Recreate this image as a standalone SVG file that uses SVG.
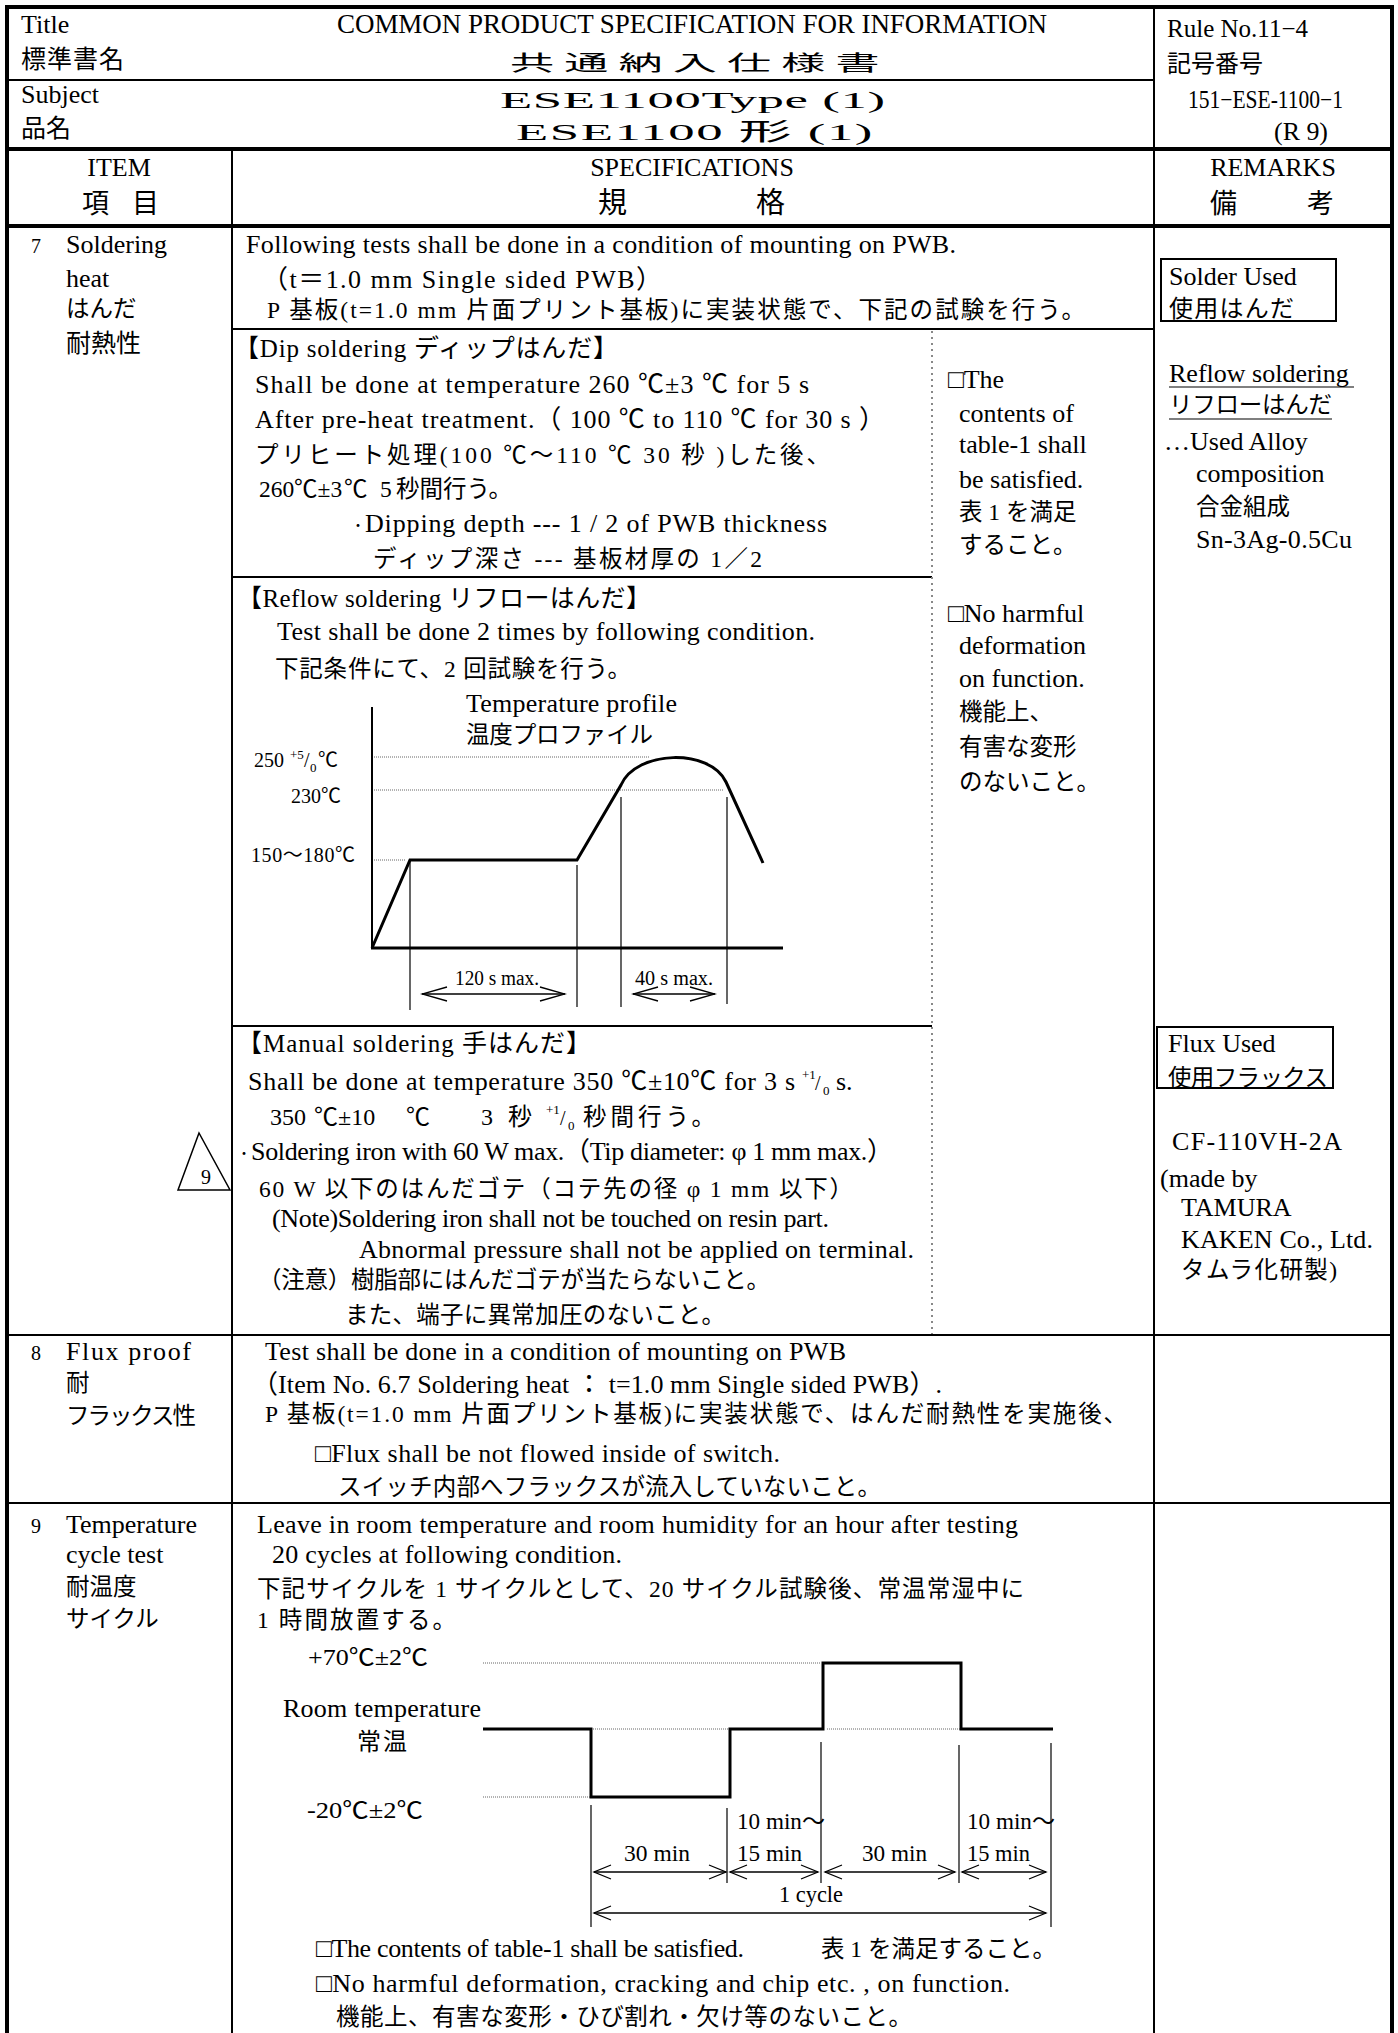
<svg xmlns="http://www.w3.org/2000/svg" width="1398" height="2033" viewBox="0 0 1398 2033">
<style>
text{font-family:"Liberation Serif","Noto Sans CJK JP",serif;font-size:26px;fill:#000}
.J{font-size:23.5px}
.m23{font-size:23px}
.m24{font-size:24px}
.m25{font-size:25px}
.m27{font-size:27px}
.m29{font-size:29px}
.n21{font-size:21px}
.sm{font-size:20px}
.dt{font-size:14px}
.sup{font-size:13px}
.b4{stroke:#000;stroke-width:4;fill:none}
.b2{stroke:#000;stroke-width:2;fill:none}
.b1{stroke:#000;stroke-width:1.2;fill:none}
.dot{stroke:#666;stroke-width:1;stroke-dasharray:1 1;fill:none}
.vdot{stroke:#888;stroke-width:2;stroke-dasharray:2 4;fill:none}
.curve{stroke:#000;stroke-width:3;fill:none;stroke-linejoin:miter}
.ar{stroke:#000;stroke-width:1.3;fill:none}
</style>
<defs>
<marker id="ah" viewBox="-26 -8 28 16" refX="0" refY="0" markerWidth="28" markerHeight="16" markerUnits="userSpaceOnUse" orient="auto-start-reverse"><path d="M-25,-7 L0,0 L-25,7" fill="none" stroke="#000" stroke-width="1.3"/></marker>
<marker id="as" viewBox="-18 -8 20 16" refX="0" refY="0" markerWidth="20" markerHeight="16" markerUnits="userSpaceOnUse" orient="auto-start-reverse"><path d="M-17,-7 L0,0 L-17,7" fill="none" stroke="#000" stroke-width="1.3"/></marker>
</defs>
<rect width="1398" height="2033" fill="#fff"/>

<g id="frame">
<line class="b4" x1="5" y1="7" x2="1394" y2="7"/>
<line class="b4" x1="7" y1="5" x2="7" y2="2033"/>
<line class="b4" x1="1392" y1="5" x2="1392" y2="2033"/>
<line class="b2" x1="7" y1="80" x2="1154" y2="80"/>
<line class="b4" x1="7" y1="149" x2="1392" y2="149"/>
<line class="b4" x1="7" y1="226" x2="1392" y2="226"/>
<line class="b2" x1="1154" y1="7" x2="1154" y2="2033"/>
<line class="b2" x1="232" y1="149" x2="232" y2="2033"/>
<line class="b2" x1="7" y1="1335" x2="1392" y2="1335"/>
<line class="b2" x1="7" y1="1503" x2="1392" y2="1503"/>
<line class="b2" x1="232" y1="329" x2="1154" y2="329"/>
<line class="b2" x1="232" y1="577" x2="932" y2="577"/>
<line class="b2" x1="232" y1="1026" x2="932" y2="1026"/>
<line class="vdot" x1="932" y1="331" x2="932" y2="1334"/>
</g>

<g id="header">
<text x="21" y="33">Title</text>
<text x="21" y="68" class="m25" textLength="103">標準書名</text>
<text x="21" y="103">Subject</text>
<text x="21" y="137" class="m25" textLength="50">品名</text>
<text x="337" y="33" class="m27" textLength="710">COMMON PRODUCT SPECIFICATION FOR INFORMATION</text>
<text transform="translate(510,70) scale(2.1,1)" x="0" y="0" class="n21" textLength="176">共通納入仕様書</text>
<text transform="translate(500,108) scale(2.2,1)" x="0" y="0" class="m24" textLength="175">ESE1100Type (1)</text>
<text transform="translate(516,140) scale(2.2,1)" x="0" y="0" class="m24" textLength="162">ESE1100 形 (1)</text>
<text x="1167" y="37" class="m25" textLength="141" lengthAdjust="spacingAndGlyphs">Rule  No.11−4</text>
<text x="1167" y="72" class="m24" textLength="96">記号番号</text>
<text x="1188" y="108" class="m25" textLength="155" lengthAdjust="spacingAndGlyphs">151−ESE-1100−1</text>
<text x="1274" y="140" class="m25" textLength="54" lengthAdjust="spacingAndGlyphs">(R 9)</text>
</g>

<g id="column-heads">
<text x="119" y="176" text-anchor="middle">ITEM</text>
<text x="82" y="213" class="m27">項</text>
<text x="132" y="213" class="m27">目</text>
<text x="692" y="176" text-anchor="middle">SPECIFICATIONS</text>
<text x="598" y="213" class="m29">規</text>
<text x="756" y="213" class="m29">格</text>
<text x="1273" y="176" text-anchor="middle">REMARKS</text>
<text x="1210" y="213" class="m27">備</text>
<text x="1307" y="213" class="m27">考</text>
</g>

<g id="item7-label">
<text x="31" y="253" class="sm">7</text>
<text x="66" y="253">Soldering</text>
<text x="66" y="287">heat</text>
<text x="66" y="317" class="J">はんだ</text>
<text x="66" y="352" class="m25">耐熱性</text>
</g>

<g id="item7-spec">
<text x="246" y="253" textLength="710">Following tests shall be done in a condition of mounting on PWB.</text>
<text x="262" y="288" textLength="400">（t＝1.0 mm Single  sided  PWB）</text>
<text x="267" y="318" class="J" textLength="818">P 基板(t=1.0 mm  片面プリント基板)に実装状態で、下記の試験を行う。</text>
</g>

<g id="dip">
<text x="234" y="357" class="m25" textLength="384">【Dip soldering  ディップはんだ】</text>
<text x="255" y="393" textLength="554">Shall be done at temperature 260 ℃±3 ℃  for 5 s</text>
<text x="255" y="428" textLength="630">After pre-heat treatment.（ 100 ℃ to 110 ℃ for 30 s ）</text>
<text x="255" y="463" class="J" textLength="575">プリヒート処理(100 ℃〜110 ℃ 30 秒 )した後、</text>
<text y="497" class="J"><tspan x="259">260</tspan><tspan x="294">℃±3</tspan><tspan x="344">℃</tspan><tspan x="380">5</tspan><tspan x="396">秒間行う。</tspan></text>
<text x="351" y="530" class="dt">・</text>
<text x="365" y="532" textLength="462">Dipping depth  ---  1 / 2 of PWB thickness</text>
<text x="373" y="567" class="J" textLength="389">ディップ深さ  ---  基板材厚の 1／2</text>
</g>

<g id="criteria7">
<text x="948" y="388">□The</text>
<text x="959" y="422">contents of</text>
<text x="959" y="453">table-1 shall</text>
<text x="959" y="488">be satisfied.</text>
<text x="959" y="520" class="J">表 1 を満足</text>
<text x="959" y="553" class="J">すること。</text>
<text x="948" y="622">□No harmful</text>
<text x="959" y="654">deformation</text>
<text x="959" y="687">on function.</text>
<text x="959" y="720" class="J">機能上、</text>
<text x="959" y="755" class="J">有害な変形</text>
<text x="959" y="790" class="J">のないこと。</text>
</g>

<g id="remarks7">
<rect x="1161" y="259" width="175" height="62" class="b2"/>
<text x="1169" y="285">Solder Used</text>
<text x="1169" y="317" class="m24" textLength="125">使用はんだ</text>
<text x="1169" y="382">Reflow soldering</text>
<line class="b1" x1="1169" y1="387" x2="1354" y2="387"/>
<text x="1169" y="413" class="J" textLength="163">リフローはんだ</text>
<line class="b1" x1="1169" y1="419" x2="1332" y2="419"/>
<text x="1164" y="450">…Used Alloy</text>
<text x="1196" y="482">composition</text>
<text x="1196" y="515" class="J">合金組成</text>
<text x="1196" y="548" textLength="156">Sn-3Ag-0.5Cu</text>
</g>

<g id="reflow">
<text x="237" y="607" class="m25" textLength="414">【Reflow soldering  リフローはんだ】</text>
<text x="277" y="640" textLength="538">Test shall be done 2 times by following condition.</text>
<text x="275" y="677" class="J" textLength="356">下記条件にて、2 回試験を行う。</text>
<text x="466" y="712" textLength="211">Temperature profile</text>
<text x="466" y="743" class="J" textLength="187">温度プロファイル</text>
<text x="254" y="767" class="sm">250</text>
<text x="290" y="759" class="sup">+5</text>
<text x="304" y="767" class="sm">/</text>
<text x="310" y="772" class="sup">0</text>
<text x="318" y="767" class="sm">℃</text>
<text x="291" y="803" class="sm">230℃</text>
<text x="251" y="862" class="sm" textLength="104">150〜180℃</text>
<line class="dot" x1="374" y1="757" x2="650" y2="757"/>
<line class="dot" x1="374" y1="790" x2="723" y2="790"/>
<line class="dot" x1="374" y1="860" x2="405" y2="860"/>
<line class="b2" x1="372" y1="707" x2="372" y2="949"/>
<line class="curve" x1="371" y1="948" x2="783" y2="948"/>
<path class="curve" d="M372,948 L410,860 L577,860 L621,785 C636,750 710,748 726,782 L763,863"/>
<line class="b1" x1="410" y1="860" x2="410" y2="1010"/>
<line class="b1" x1="577" y1="865" x2="577" y2="1007"/>
<line class="b1" x1="621" y1="797" x2="621" y2="1007"/>
<line class="b1" x1="727" y1="797" x2="727" y2="1004"/>
<line class="ar" x1="422" y1="994" x2="565" y2="994" marker-start="url(#ah)" marker-end="url(#ah)"/>
<line class="ar" x1="633" y1="994" x2="715" y2="994" marker-start="url(#ah)" marker-end="url(#ah)"/>
<text x="455" y="985" class="sm" textLength="84" lengthAdjust="spacingAndGlyphs">120 s max.</text>
<text x="635" y="985" class="sm" textLength="78" lengthAdjust="spacingAndGlyphs">40 s max.</text>
</g>

<g id="manual">
<text x="237" y="1052" class="m25" textLength="354">【Manual soldering  手はんだ】</text>
<text x="248" y="1090" textLength="547">Shall be done at temperature 350 ℃±10℃  for 3 s</text>
<text x="802" y="1079" class="sup">+1</text>
<text x="815" y="1090" class="sm">/</text>
<text x="823" y="1095" class="sup">0</text>
<text x="836" y="1090">s.</text>
<text y="1125" class="m24"><tspan x="270">350</tspan><tspan x="314">℃±10</tspan><tspan x="406">℃</tspan><tspan x="481">3</tspan><tspan x="508">秒</tspan></text>
<text x="546" y="1114" class="sup">+1</text>
<text x="560" y="1125" class="sm">/</text>
<text x="568" y="1130" class="sup">0</text>
<text x="583" y="1125" class="J" textLength="132">秒間行う。</text>
<text x="237" y="1158" class="dt">・</text>
<text x="251" y="1160" textLength="642">Soldering iron with 60 W max.（Tip diameter: φ  1 mm max.）</text>
<text x="259" y="1197" class="J" textLength="594">60 W 以下のはんだゴテ（コテ先の径 φ  1 mm 以下）</text>
<text x="272" y="1227" textLength="557">(Note)Soldering iron shall not be touched on resin part.</text>
<text x="359" y="1258" textLength="555">Abnormal pressure shall not be applied on terminal.</text>
<text x="258" y="1288" class="J" textLength="512">（注意）樹脂部にはんだゴテが当たらないこと。</text>
<text x="345" y="1323" class="J" textLength="380">また、端子に異常加圧のないこと。</text>
<polygon points="199,1133 178,1190 230,1190" fill="none" stroke="#000" stroke-width="1.5"/>
<text x="201" y="1184" class="sm">9</text>
</g>

<g id="remarks-flux">
<rect x="1157" y="1027" width="176" height="61" class="b2"/>
<text x="1168" y="1052">Flux Used</text>
<text x="1168" y="1086" class="J" textLength="160">使用フラックス</text>
<text x="1172" y="1150" textLength="170">CF-110VH-2A</text>
<text x="1160" y="1187">(made by</text>
<text x="1181" y="1216">TAMURA</text>
<text x="1181" y="1248" textLength="192">KAKEN Co., Ltd.</text>
<text x="1181" y="1278" class="J" textLength="156">タムラ化研製)</text>
</g>

<g id="item8">
<text x="31" y="1360" class="sm">8</text>
<text x="66" y="1360" textLength="125">Flux  proof</text>
<text x="66" y="1391" class="J">耐</text>
<text x="66" y="1424" class="J" textLength="130">フラックス性</text>
<text x="265" y="1360" textLength="581">Test shall be done in a condition of mounting on PWB</text>
<text x="252" y="1393" textLength="690">（Item No. 6.7 Soldering heat ： t=1.0 mm Single sided PWB）.</text>
<text x="265" y="1422" class="J" textLength="862">P 基板(t=1.0 mm   片面プリント基板)に実装状態で、はんだ耐熱性を実施後、</text>
<text x="315" y="1462" textLength="465">□Flux shall be not flowed inside of switch.</text>
<text x="338" y="1495" class="J" textLength="543">スイッチ内部へフラックスが流入していないこと。</text>
</g>

<g id="item9">
<text x="31" y="1533" class="sm">9</text>
<text x="66" y="1533">Temperature</text>
<text x="66" y="1563">cycle test</text>
<text x="66" y="1595" class="J">耐温度</text>
<text x="66" y="1627" class="J">サイクル</text>
<text x="257" y="1533" textLength="761">Leave in room temperature and room humidity for an hour after testing</text>
<text x="272" y="1563" textLength="350">20 cycles at following condition.</text>
<text x="257" y="1597" class="J" textLength="767">下記サイクルを 1  サイクルとして、20  サイクル試験後、常温常湿中に</text>
<text x="257" y="1628" class="J" textLength="199">1 時間放置する。</text>
</g>

<g id="cycle-chart">
<text x="308" y="1665" class="m23" textLength="120" lengthAdjust="spacingAndGlyphs">+70℃±2℃</text>
<text x="283" y="1717" textLength="198">Room temperature</text>
<text x="357" y="1750" class="m24" textLength="50">常温</text>
<text x="307" y="1818" class="m23" textLength="116" lengthAdjust="spacingAndGlyphs">-20℃±2℃</text>
<line class="dot" x1="483" y1="1663" x2="820" y2="1663"/>
<line class="dot" x1="591" y1="1729" x2="730" y2="1729"/>
<line class="dot" x1="827" y1="1729" x2="961" y2="1729"/>
<line class="dot" x1="483" y1="1797" x2="591" y2="1797"/>
<path class="curve" d="M483,1729 L591,1729 L591,1797 L730,1797 L730,1729 L823,1729 L823,1663 L961,1663 L961,1729 L1053,1729"/>
<line class="b1" x1="591" y1="1805" x2="591" y2="1927"/>
<line class="b1" x1="727" y1="1808" x2="727" y2="1883"/>
<line class="b1" x1="821" y1="1742" x2="821" y2="1883"/>
<line class="b1" x1="959" y1="1745" x2="959" y2="1883"/>
<line class="b1" x1="1051" y1="1743" x2="1051" y2="1927"/>
<line class="ar" x1="594" y1="1872" x2="726" y2="1872" marker-start="url(#as)" marker-end="url(#as)"/>
<line class="ar" x1="730" y1="1872" x2="818" y2="1872" marker-start="url(#as)" marker-end="url(#as)"/>
<line class="ar" x1="825" y1="1872" x2="955" y2="1872" marker-start="url(#as)" marker-end="url(#as)"/>
<line class="ar" x1="962" y1="1872" x2="1046" y2="1872" marker-start="url(#as)" marker-end="url(#as)"/>
<line class="ar" x1="594" y1="1913" x2="1046" y2="1913" marker-start="url(#as)" marker-end="url(#as)"/>
<text x="624" y="1861" class="m23" textLength="66" lengthAdjust="spacingAndGlyphs">30 min</text>
<text x="737" y="1829" class="m23" textLength="88" lengthAdjust="spacingAndGlyphs">10 min〜</text>
<text x="737" y="1861" class="m23" textLength="65" lengthAdjust="spacingAndGlyphs">15 min</text>
<text x="862" y="1861" class="m23" textLength="65" lengthAdjust="spacingAndGlyphs">30 min</text>
<text x="967" y="1829" class="m23" textLength="88" lengthAdjust="spacingAndGlyphs">10 min〜</text>
<text x="967" y="1861" class="m23" textLength="63" lengthAdjust="spacingAndGlyphs">15 min</text>
<text x="779" y="1902" class="m23" textLength="64" lengthAdjust="spacingAndGlyphs">1 cycle</text>
</g>

<g id="criteria9">
<text x="316" y="1957" textLength="428">□The contents of table-1 shall be satisfied.</text>
<text x="821" y="1957" class="J">表 1 を満足すること。</text>
<text x="316" y="1992" textLength="694">□No harmful deformation, cracking and chip etc. , on function.</text>
<text x="336" y="2025" class="J" textLength="576">機能上、有害な変形・ひび割れ・欠け等のないこと。</text>
</g>
</svg>
